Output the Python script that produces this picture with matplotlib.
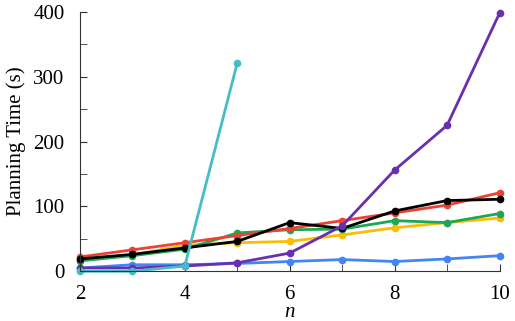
import matplotlib
matplotlib.use("Agg")
from matplotlib import pyplot as plt

plt.rcParams['font.family'] = ['Liberation Serif', 'DejaVu Serif']

n = [2, 3, 4, 5, 6, 7, 8, 9, 10]
n_cyan = [2, 3, 4, 5]

red = [22, 33, 44, 55, 66, 78, 90, 102, 121]
yellow = [18, 25, 40, 44, 46, 56, 67, 75, 82]
green = [16, 24, 34, 59, 64, 65, 78, 75, 89]
black = [19, 26, 36, 46, 75, 66, 93, 109, 111]
purple = [5, 5, 8, 13, 28, 70, 156, 225, 398]
blue = [5, 10, 10, 12, 15, 18, 15, 19, 24]
cyan = [0, 0, 8, 321]

series = [
    (n, blue, '#4285F4'),
    (n, yellow, '#FBBC04'),
    (n, green, '#1EA656'),
    (n, red, '#EA4335'),
    (n, black, '#000000'),
    (n, purple, '#6A2FB0'),
    (n_cyan, cyan, '#46BDC6'),
]

fig, ax = plt.subplots(figsize=(5.15, 3.21), dpi=100)
fig.subplots_adjust(left=0.155, right=0.97, top=0.963, bottom=0.155)

for xs, ys, c in series:
    ax.plot(xs, ys, color=c, lw=2.0, marker='o', markersize=4.5, clip_on=False)

ax.set_xlim(2, 10)
ax.set_ylim(0, 400)
ax.set_xticks([2, 4, 6, 8, 10])
ax.set_xticks(range(2, 11), minor=True)
ax.set_yticks([0, 100, 200, 300, 400])
ax.set_yticks(range(0, 401, 50), minor=True)
ax.tick_params(which='both', direction='in', labelsize=15, color='#333333', length=5)
ax.tick_params(axis='x', which='major', pad=10)
ax.tick_params(axis='y', which='major', pad=11)
for s in ['top', 'right']:
    ax.spines[s].set_visible(False)
for s in ['left', 'bottom']:
    ax.spines[s].set_color('#333333')

ax.set_xlabel('n', fontsize=15, style='italic', labelpad=-1)
ax.set_ylabel('Planning Time (s)', fontsize=15, labelpad=5)

plt.savefig('out.png')
